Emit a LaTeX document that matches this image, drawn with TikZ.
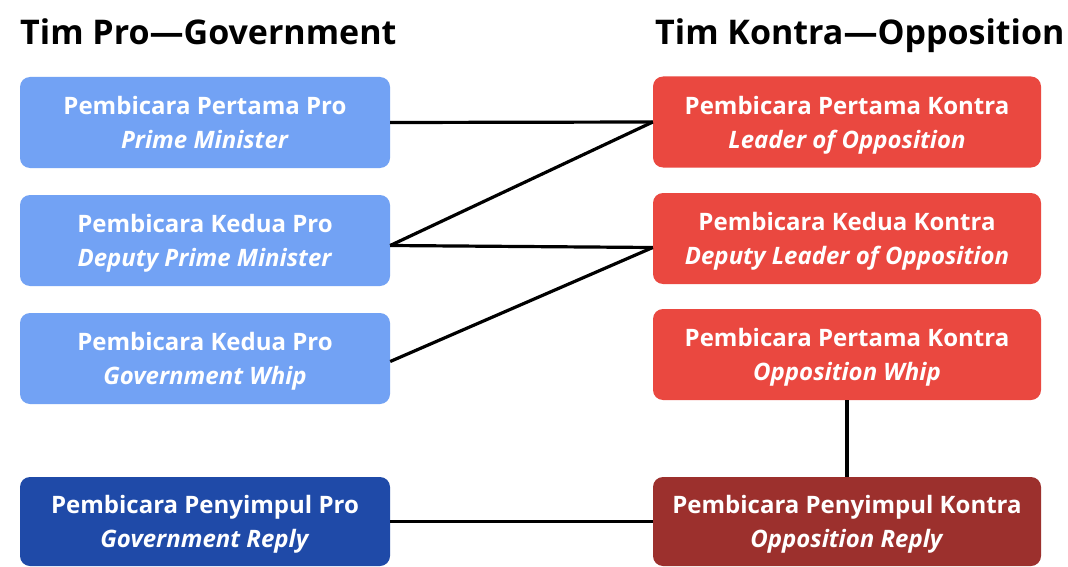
\documentclass[tikz,border=0pt]{standalone}
\usepackage{fontspec}
\setmainfont{Open Sans}
\definecolor{lblue}{HTML}{72A2F4}
\definecolor{dblue}{HTML}{1F4AA8}
\definecolor{lred}{HTML}{EA4840}
\definecolor{dred}{HTML}{9C302D}
\newcommand\twolines[2]{\rule{0pt}{24pt}#1\\\textit{#2}\vphantom{pgy}}
\tikzset{
  box/.style={rectangle, rounded corners=10pt, text=white, align=center,
    font=\bfseries\fontsize{24}{34}\selectfont, inner sep=0pt, minimum height=91pt},
  lbox/.style={box, minimum width=370pt},
  rbox/.style={box, minimum width=388pt},
  head/.style={anchor=base west, inner sep=0pt, font=\bfseries\fontsize{34}{40}\selectfont},
  conn/.style={line width=3.2pt, black}
}
\begin{document}
\begin{tikzpicture}[x=1pt,y=-1pt]
\useasboundingbox[fill=white] (0,0) rectangle (1068,567);
\node[head] (hpro) at (20,45) {Tim Pro—Government};
\node[head] (hkon) at (655,45) {Tim Kontra—Opposition};

\node[lbox, fill=lblue] (L1) at (205,122.5) {\twolines{Pembicara Pertama Pro}{Prime Minister}};
\node[lbox, fill=lblue] (L2) at (205,240.5) {\twolines{Pembicara Kedua Pro}{Deputy Prime Minister}};
\node[lbox, fill=lblue] (L3) at (205,358.5) {\twolines{Pembicara Kedua Pro}{Government Whip}};
\node[lbox, fill=dblue, minimum height=89pt] (L4) at (205,521.5) {\twolines{Pembicara Penyimpul Pro}{Government Reply}};

\node[rbox, fill=lred] (R1) at (847,122) {\twolines{Pembicara Pertama Kontra}{Leader of Opposition}};
\node[rbox, fill=lred] (R2) at (847,238.5) {\twolines{Pembicara Kedua Kontra}{Deputy Leader of Opposition}};
\node[rbox, fill=lred] (R3) at (847,354.5) {\twolines{Pembicara Pertama Kontra}{Opposition Whip}};
\node[rbox, fill=dred, minimum height=89pt] (R4) at (847,521.5) {\twolines{Pembicara Penyimpul Kontra}{Opposition Reply}};

\draw[conn] (L1.east) -- (R1.west);
\draw[conn] ([yshift=-5pt]L2.east) -- (R1.west);
\draw[conn] ([yshift=-5pt]L2.east) -- ([yshift=-9pt]R2.west);
\draw[conn] ([yshift=-3pt]L3.east) -- ([yshift=-9pt]R2.west);
\draw[conn] (L4.east) -- (R4.west);
\draw[conn] (R3.south) -- (R4.north);
\end{tikzpicture}
\end{document}
